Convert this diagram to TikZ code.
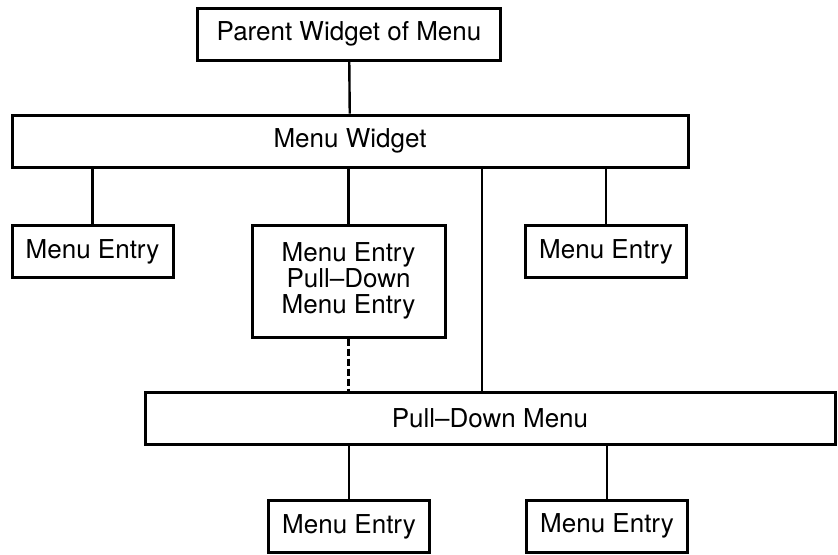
\documentclass[tikz,border=0pt]{standalone}
\usepackage{fontspec}
\setmainfont{TeX Gyre Heros}

\begin{document}
\begin{tikzpicture}[x=0.5pt, y=-0.5pt,
  box/.style={draw, line width=1.5pt, inner sep=0pt, font=\fontsize{13}{13}\selectfont},
  entry/.style={box, minimum width=80.5pt, minimum height=26pt},
  link/.style={line width=1.2pt}]
\useasboundingbox (0,0) rectangle (838,554);
\node[box, minimum width=151.5pt, minimum height=26pt] (PW) at (349,34) {Parent Widget of Menu};
\node[box, minimum width=338pt, minimum height=26pt] (MW) at (350,141) {Menu Widget};
\node[entry] (ME1) at (92.5,251.5) {Menu Entry};
\node[box, minimum width=96.5pt, minimum height=56pt, align=center] (ME2) at (348.5,281) {Menu Entry\\Pull--Down\\Menu Entry};
\node[entry] (ME3) at (606,251.5) {Menu Entry};
\node[box, minimum width=345pt, minimum height=26pt] (PD) at (490,418) {Pull--Down Menu};
\node[entry] (ME4) at (349,526.5) {Menu Entry};
\node[entry] (ME5) at (607,526) {Menu Entry};
\coordinate (tap) at (482,392);

\path[link]
(PW) edge (MW)
(MW.south -| ME1.north) edge (ME1.north)
(MW.south -| ME2.north) edge (ME2.north)
(MW.south -| ME3.north) edge (ME3.north)
(MW.south -| tap) edge (tap)
(ME2.south) edge[dash pattern=on 3.5pt off 1.5pt] (ME2.south |- PD.north)
(PD.south -| ME4.north) edge (ME4.north)
(PD.south -| ME5.north) edge (ME5.north)
;
\end{tikzpicture}
\end{document}
